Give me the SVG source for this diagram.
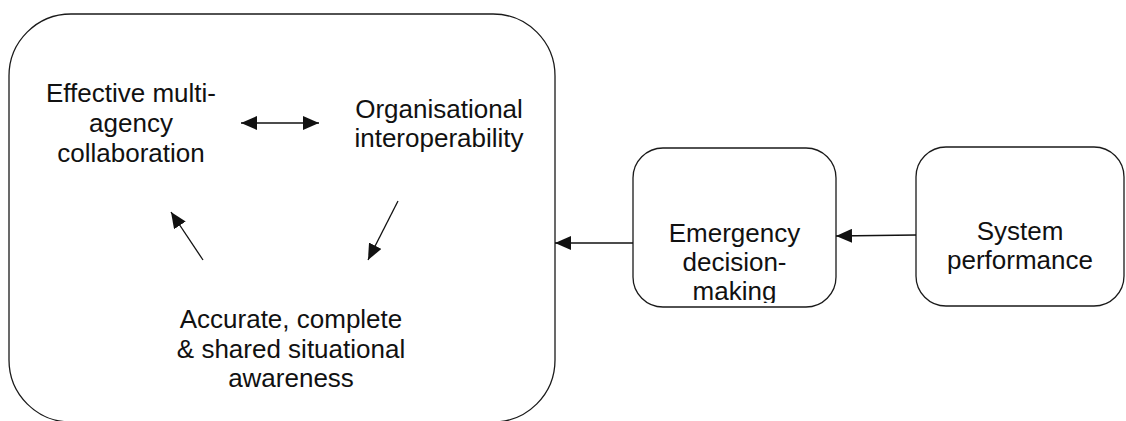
<svg xmlns="http://www.w3.org/2000/svg" width="1126" height="421" viewBox="0 0 1126 421">
  <style>
    .box { fill: #ffffff; stroke: #1a1a1a; stroke-width: 1.3; }
    .label { font-family: "Liberation Sans", Arial, Helvetica, sans-serif; font-size: 26px; fill: #111111; text-anchor: middle; }
    .link { stroke: #111111; stroke-width: 1.3; fill: none; }
    .head-end { marker-end: url(#arrow); }
    .head-both { marker-start: url(#arrow-rev); marker-end: url(#arrow); }
  </style>
  <defs>
    <marker id="arrow" viewBox="0 0 16 14" refX="16" refY="7" markerWidth="16" markerHeight="14" markerUnits="userSpaceOnUse" orient="auto">
      <path d="M0,0 L16,7 L0,14 Z" fill="#111111"/>
    </marker>
    <marker id="arrow-rev" viewBox="0 0 16 14" refX="0" refY="7" markerWidth="16" markerHeight="14" markerUnits="userSpaceOnUse" orient="auto">
      <path d="M16,0 L0,7 L16,14 Z" fill="#111111"/>
    </marker>
    <clipPath id="clip-emergency">
      <rect x="633" y="147" width="203" height="156"/>
    </clipPath>
  </defs>

  <rect width="1126" height="421" fill="#ffffff"/>

  <!-- outer container holding the three coupled factors -->
  <g id="node-container">
    <rect class="box" x="9" y="14" width="546" height="408" rx="62" ry="62"/>
  </g>

  <g id="node-collaboration">
    <text class="label" x="131" y="101.7">Effective multi-</text>
    <text class="label" x="131" y="131.7">agency</text>
    <text class="label" x="131" y="161.7">collaboration</text>
  </g>

  <g id="node-interoperability">
    <text class="label" x="439" y="118">Organisational</text>
    <text class="label" x="439" y="147">interoperability</text>
  </g>

  <g id="node-awareness">
    <text class="label" x="291" y="328">Accurate, complete</text>
    <text class="label" x="291" y="357.5">&amp; shared situational</text>
    <text class="label" x="291" y="387">awareness</text>
  </g>

  <g id="node-decision">
    <rect class="box" x="633" y="148" width="203" height="159" rx="30" ry="30"/>
    <g clip-path="url(#clip-emergency)">
      <text class="label" x="734.5" y="241.7">Emergency</text>
      <text class="label" x="734.5" y="271">decision-</text>
      <text class="label" x="734.5" y="300">making</text>
    </g>
  </g>

  <g id="node-system">
    <rect class="box" x="916" y="147" width="208" height="159" rx="30" ry="30"/>
    <text class="label" x="1020" y="240">System</text>
    <text class="label" x="1020" y="269">performance</text>
  </g>

  <!-- connectors -->
  <g id="connectors">
    <line class="link head-both" x1="241" y1="123" x2="319" y2="123"/>
    <line class="link head-end" x1="398" y1="201" x2="368" y2="260"/>
    <line class="link head-end" x1="203" y1="260" x2="171" y2="212"/>
    <line class="link head-end" x1="633" y1="243" x2="555" y2="243"/>
    <line class="link head-end" x1="916" y1="235" x2="836" y2="236"/>
  </g>
</svg>
